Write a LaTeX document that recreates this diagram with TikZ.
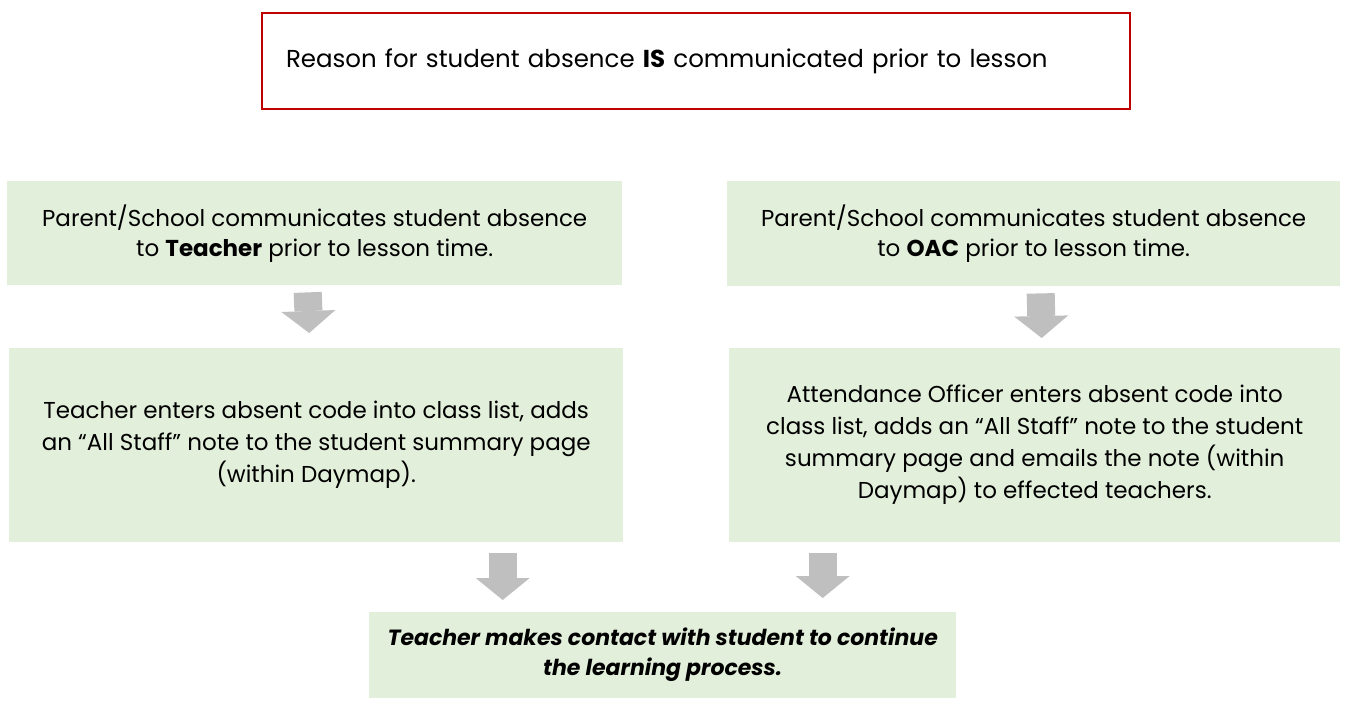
\documentclass[tikz,border=0pt]{standalone}
\usepackage{fontspec}
\setmainfont{Poppins}
\usetikzlibrary{arrows.meta,calc}
\definecolor{boxgreen}{HTML}{E2EFDA}
\definecolor{arrowgray}{HTML}{BFBFBF}
\definecolor{boxred}{HTML}{C00000}
\begin{document}
\begin{tikzpicture}[x=1pt,y=-1pt,
  greenbox/.style={fill=boxgreen, draw=none, anchor=north west, inner sep=0pt, align=center, font=\fontsize{23}{30}\selectfont},
  blockarrow/.style={draw=arrowgray, line width=28pt, -{Triangle[width=54pt,length=22pt,line width=0pt,fill=arrowgray]}}]
\path[use as bounding box, fill=white] (0,0) rectangle (1345,727);

\node[draw=boxred, line width=2pt, anchor=north west, minimum height=96pt, inner xsep=24pt, inner ysep=0pt, text width=820pt, align=left, font=\fontsize{24.5}{30}\selectfont] (T) at (261,12) {Reason for student absence \textbf{IS} communicated prior to lesson};

\node[greenbox, minimum width=615pt, minimum height=104pt] (L1) at (7,181) {Parent/School communicates student absence\\to \textbf{Teacher} prior to lesson time.};
\node[greenbox, minimum width=613pt, minimum height=105pt] (R1) at (727,181) {Parent/School communicates student absence\\to \textbf{OAC} prior to lesson time.};
\node[greenbox, minimum width=614pt, minimum height=194pt, font=\fontsize{23}{32}\selectfont] (L2) at (9,348) {Teacher enters absent code into class list, adds\\an “All Staff” note to the student summary page\\(within Daymap).};
\node[greenbox, minimum width=611pt, minimum height=194pt, font=\fontsize{23}{32}\selectfont] (R2) at (729,348) {Attendance Officer enters absent code into\\class list, adds an “All Staff” note to the student\\summary page and emails the note (within\\Daymap) to effected teachers.};
\node[greenbox, minimum width=587pt, minimum height=86pt, font=\fontsize{22}{30}\selectfont\bfseries\itshape] (B) at (369,612) {Teacher makes contact with student to continue\\the learning process.};

\draw[blockarrow] ([xshift=-7pt,yshift=-7pt]L1.south) -- ([xshift=-7pt,yshift=15pt]L2.north);
\draw[blockarrow] ([xshift=7pt,yshift=-7pt]R1.south) -- ([xshift=7pt,yshift=10pt]R2.north);
\coordinate (bl) at ($(B.north)+(-160,0)$);
\coordinate (br) at ($(B.north)+(160,0)$);
\draw[blockarrow] ([yshift=-11pt]bl |- L2.south) -- ([yshift=12pt]bl);
\draw[blockarrow] ([yshift=-11pt]br |- R2.south) -- ([yshift=14pt]br);
\end{tikzpicture}
\end{document}
